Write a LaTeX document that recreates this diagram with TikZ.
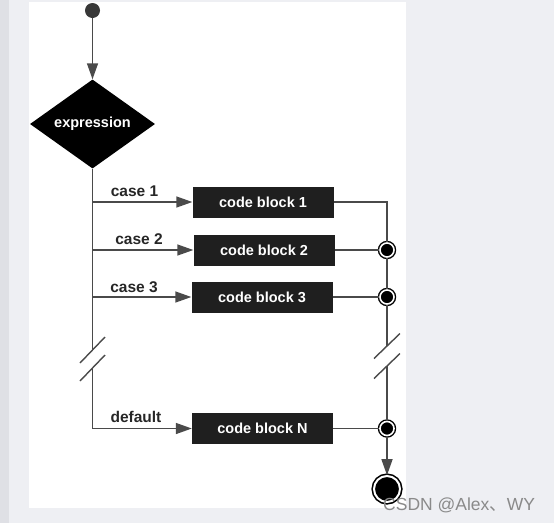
\documentclass[tikz,border=0pt]{standalone}
\usepackage{fontspec}
\setmainfont{Liberation Sans}
\newfontfamily\cjk{Noto Sans CJK SC}
\usepackage{tikz}
\usetikzlibrary{arrows.meta}
\usetikzlibrary{shapes.geometric}
\usetikzlibrary{positioning}
\usetikzlibrary{calc}
\definecolor{pagegray}{HTML}{EEEFF3}
\definecolor{stripgray}{HTML}{DFE0E5}
\definecolor{linegray}{HTML}{4A4A4A}
\definecolor{markgray}{HTML}{8A8A8A}
\tikzset{
	flow/.style={draw=linegray, line width=1.4pt},
	flowarrow/.style={flow, -{Triangle[length=16pt,width=11pt]}},
	decision/.style={diamond, fill=black, text=white, inner sep=0pt, aspect=1.4,
		minimum width=125pt, minimum height=89pt, font=\bfseries\fontsize{14.5}{16}\selectfont},
	codeblock/.style={fill=black!88, text=white, inner sep=0pt,
		minimum width=141pt, minimum height=31pt, font=\bfseries\fontsize{14.5}{16}\selectfont},
	caselabel/.style={anchor=base, text=black!85, inner sep=0pt, font=\bfseries\fontsize{15.5}{17}\selectfont},
	initial/.style={circle, fill=black!78, minimum size=15pt, inner sep=0pt},
	merge/.style={circle, fill=black, draw=black, double=white, line width=1.4pt,
		double distance=1.6pt, minimum size=14pt, inner sep=0pt},
	final/.style={circle, fill=black, draw=black, double=white, line width=1.6pt,
		double distance=2pt, minimum size=26pt, inner sep=0pt},
	breakmark/.style={flow},
}

\begin{document}
\begin{tikzpicture}[x=1pt, y=-1pt]
	\useasboundingbox (0,0) rectangle (554,523);
	\fill[pagegray] (0,0) rectangle (554,523);
	\fill[stripgray] (0,0) rectangle (9,523);
	\fill[white] (29,2) rectangle (406,508);

	\node[initial] (start) at (92.5,10.5) {};
	\node[decision] (expr) at (92.5,124) {expression};
	\node[codeblock] (block1) at (263,202) {code block 1};
	\node[codeblock] (block2) at (264,250) {code block 2};
	\node[codeblock] (block3) at (262,297) {code block 3};
	\node[codeblock] (blockN) at (262.5,428.5) {code block N};
	\node[merge] (join2) at (387,250) {};
	\node[merge] (join3) at (387,297) {};
	\node[merge] (joinN) at (387,428.5) {};
	\node[final] (stop) at (387,489) {};

	\coordinate (l1) at (92.5,202);
	\coordinate (l2) at (92.5,250);
	\coordinate (l3) at (92.5,297);
	\coordinate (lN) at (92.5,428.5);
	\coordinate (lcut1) at (92.5,350);
	\coordinate (lcut2) at (92.5,368);
	\coordinate (r1) at (387,202);
	\coordinate (rcut1) at (387,346);
	\coordinate (rcut2) at (387,366);

	\draw[flowarrow] (start) -- (expr.north);
	\draw[flow] (expr.south) -- (lcut1);
	\draw[flow] (lcut2) -- (lN);
	\draw[flowarrow] (l1) -- (block1);
	\draw[flowarrow] (l2) -- (block2);
	\draw[flowarrow] (l3) -- (block3);
	\draw[flowarrow] (lN) -- (blockN);
	\draw[flow] (block1) -- (r1) -- (join2);
	\draw[flow] (block2) -- (join2);
	\draw[flow] (block3) -- (join3);
	\draw[flow] (join2) -- (join3);
	\draw[flow] (join3) -- (rcut1);
	\draw[flow] (rcut2) -- (joinN);
	\draw[flow] (blockN) -- (joinN);
	\draw[flowarrow] (joinN) -- (stop);

	\draw[breakmark] ($(lcut1)+(-12.5,13)$) -- ($(lcut1)+(12.5,-13)$);
	\draw[breakmark] ($(lcut2)+(-12.5,13)$) -- ($(lcut2)+(12.5,-13)$);
	\draw[breakmark] ($(rcut1)+(-13,12.5)$) -- ($(rcut1)+(13,-12.5)$);
	\draw[breakmark] ($(rcut2)+(-13,12.5)$) -- ($(rcut2)+(13,-12.5)$);

	\node[caselabel] (case1) at (134.5,196) {case 1};
	\node[caselabel] (case2) at (139,244) {case 2};
	\node[caselabel] (case3) at (134,292) {case 3};
	\node[caselabel] (casedef) at (136,422) {default};

	\node[anchor=base west, inner sep=0pt, text=markgray, font=\fontsize{17.5}{19}\selectfont]
		(mark) at (383,510) {CSDN @Alex{\cjk 、}WY};
\end{tikzpicture}
\end{document}
